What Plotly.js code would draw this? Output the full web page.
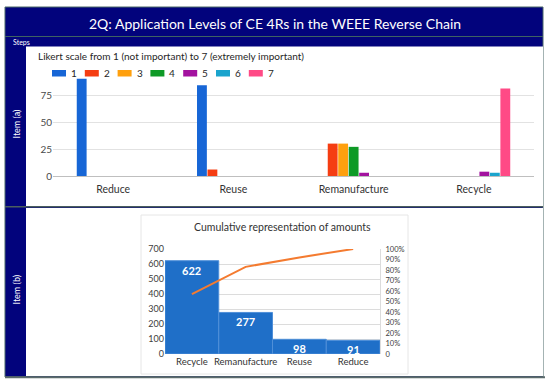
<!DOCTYPE html>
<html>
<head>
<meta charset="utf-8">
<script src="https://cdn.plot.ly/plotly-3.0.1.min.js"></script>
<style>
  html, body { margin: 0; padding: 0; background: #ffffff; }
  #chart { width: 550px; height: 386px; }
</style>
</head>
<body>
<div id="chart"></div>
<script>
// ---------- data ----------
var steps = ['Reduce', 'Reuse', 'Remanufacture', 'Recycle'];
var likertLevels = ['1', '2', '3', '4', '5', '6', '7'];
var level1 = [90, 84, 0, 0];
var level2 = [0, 6, 30, 0];
var level3 = [0, 0, 30, 0];
var level4 = [0, 0, 27, 0];
var level5 = [0, 0, 3, 4];
var level6 = [0, 0, 0, 3];
var level7 = [0, 0, 0, 81];

var paretoCategories = ['Recycle', 'Remanufacture', 'Reuse', 'Reduce'];
var paretoAmounts = [622, 277, 98, 91];
var paretoCumulativePct = [57, 83, 92, 100];

var leftTicks = [0, 100, 200, 300, 400, 500, 600, 700];
var pctTicks = [0, 10, 20, 30, 40, 50, 60, 70, 80, 90, 100];
var pctTickText = ['0', '10%', '20%', '30%', '40%', '50%', '60%', '70%', '80%', '90%', '100%'];

// ---------- styling ----------
var F = 'Lato, "Liberation Sans", sans-serif';
var levelColors = ['#1766d6', '#f53d12', '#ffa00e', '#0e9a26', '#a3129f', '#1aa4cd', '#ff4a86'];
var levelSeries = [level1, level2, level3, level4, level5, level6, level7];
var NAVY = '#02037c';
var W = 550, H = 386;
function px(x) { return x / W; }
function py(y) { return 1 - y / H; }

var traces = [];
for (var i = 0; i < likertLevels.length; i++) {
  traces.push({
    type: 'bar', name: likertLevels[i], x: steps, y: levelSeries[i],
    xaxis: 'x', yaxis: 'y',
    marker: { color: levelColors[i], line: { width: 0 } },
    hoverinfo: 'x+y+name'
  });
}
traces.push({
  type: 'bar', x: paretoCategories, y: paretoAmounts, xaxis: 'x2', yaxis: 'y2',
  width: 1,
  marker: { color: '#1f6fc8', line: { color: '#4f8fd8', width: 1 } },
  hoverinfo: 'x+y'
});
traces.push({
  type: 'scatter', mode: 'lines', x: paretoCategories, y: paretoCumulativePct,
  xaxis: 'x2', yaxis: 'y3',
  line: { color: '#f47b30', width: 2 },
  hoverinfo: 'x+y'
});

function rect(x0, y0, x1, y1, fill, lineColor, lw) {
  return { type: 'rect', xref: 'paper', yref: 'paper', layer: 'below',
    x0: px(x0), x1: px(x1), y0: py(y0), y1: py(y1),
    fillcolor: fill, line: { color: lineColor || 'rgba(0,0,0,0)', width: lw || 0 } };
}
function hline(x0, x1, y, color, lw) {
  return { type: 'line', xref: 'paper', yref: 'paper', layer: 'below',
    x0: px(x0), x1: px(x1), y0: py(y), y1: py(y), line: { color: color, width: lw } };
}

var shapes = [
  rect(5, 7, 543, 377, NAVY, '#4b6868', 1),
  hline(5, 543, 36.5, '#3e6262', 1),
  rect(26, 46.5, 543, 206, '#ffffff'),
  hline(5, 543, 206.8, '#4a5e5e', 1.5),
  rect(26, 208, 543, 376, '#ffffff'),
  hline(5, 545, 377.2, '#5b6b6b', 2),
  rect(141, 215, 408, 374, '#ffffff', '#e6e6e6', 1)
];

// custom legend for the Likert chart
var annotations = [];
for (var j = 0; j < likertLevels.length; j++) {
  var sx = 52 + 32.8 * j;
  shapes.push({ type: 'rect', xref: 'paper', yref: 'paper', layer: 'above',
    x0: px(sx), x1: px(sx + 14), y0: py(76.5), y1: py(70),
    fillcolor: levelColors[j], line: { width: 0 } });
  annotations.push({ xref: 'paper', yref: 'paper', x: px(sx + 22), y: py(72.5),
    text: likertLevels[j], showarrow: false, xanchor: 'center', yanchor: 'middle',
    font: { family: F, size: 10, color: '#262626' } });
}

// value labels on the Pareto bars, placed at each bar's top through the axes
for (var k = 0; k < paretoCategories.length; k++) {
  annotations.push({ xref: 'x2', yref: 'y2', x: paretoCategories[k], y: paretoAmounts[k],
    text: '<b>' + paretoAmounts[k] + '</b>', showarrow: false, xanchor: 'center', yanchor: 'top',
    yshift: -1, font: { family: F, size: 11, color: '#ffffff' } });
}

annotations = annotations.concat([
  { xref: 'paper', yref: 'paper', x: px(275), y: py(23.5), xanchor: 'center', yanchor: 'middle',
    text: '2Q: Application Levels of CE 4Rs in the WEEE Reverse Chain', showarrow: false,
    font: { family: F, size: 14, color: '#ffffff' } },
  { xref: 'paper', yref: 'paper', x: px(11), y: py(42), xanchor: 'left', yanchor: 'middle',
    text: 'Steps', showarrow: false, font: { family: F, size: 7, color: '#ffffff' } },
  { xref: 'paper', yref: 'paper', x: px(36), y: py(56.5), xanchor: 'left', yanchor: 'middle',
    text: 'Likert scale from 1 (not important) to 7 (extremely important)', showarrow: false,
    font: { family: F, size: 10, color: '#262626' } },
  { xref: 'paper', yref: 'paper', x: px(15.5), y: py(124), xanchor: 'center', yanchor: 'middle',
    text: 'Item (a)', textangle: -90, showarrow: false, font: { family: F, size: 9, color: '#ffffff' } },
  { xref: 'paper', yref: 'paper', x: px(15.5), y: py(290), xanchor: 'center', yanchor: 'middle',
    text: 'Item (b)', textangle: -90, showarrow: false, font: { family: F, size: 9, color: '#ffffff' } },
  { xref: 'paper', yref: 'paper', x: px(282), y: py(227), xanchor: 'center', yanchor: 'middle',
    text: 'Cumulative representation of amounts', showarrow: false,
    font: { family: F, size: 10.5, color: '#333333' } }
]);

var layout = {
  width: W, height: H,
  margin: { l: 0, r: 0, t: 0, b: 0 },
  paper_bgcolor: '#ffffff', plot_bgcolor: 'rgba(0,0,0,0)',
  showlegend: false,
  barmode: 'group', bargap: 0.39, bargroupgap: 0.06,
  font: { family: F, color: '#404040' },
  xaxis: {
    domain: [px(53), px(534)], anchor: 'y', type: 'category',
    showgrid: false, showline: true, linecolor: '#bfbfbf', linewidth: 1,
    ticks: '', ticklabelstandoff: 3,
    tickfont: { family: F, size: 10.5, color: '#333333' }, fixedrange: true
  },
  yaxis: {
    domain: [py(176), py(68)], anchor: 'x', range: [0, 100],
    tickvals: [0, 25, 50, 75, 100], ticktext: ['0', '25', '50', '75', ''],
    showgrid: true, gridcolor: '#e2e2e2', zeroline: false, showline: false,
    ticks: '', tickfont: { family: F, size: 10, color: '#4a4a4a' }, fixedrange: true
  },
  xaxis2: {
    domain: [px(165), px(380)], anchor: 'y2', type: 'category',
    showgrid: false, showline: false, ticks: '',
    tickfont: { family: F, size: 9.5, color: '#333333' }, fixedrange: true
  },
  yaxis2: {
    domain: [py(354), py(249)], anchor: 'x2', range: [0, 700],
    tickvals: leftTicks, showgrid: true, gridcolor: '#dcdcdc', zeroline: false,
    showline: false, ticks: '', tickfont: { family: F, size: 9, color: '#404040' }, fixedrange: true
  },
  yaxis3: {
    overlaying: 'y2', anchor: 'x2', side: 'right', range: [0, 100],
    tickvals: pctTicks, ticktext: pctTickText, showgrid: false, zeroline: false,
    showline: true, linecolor: '#dcdcdc', linewidth: 1, ticks: '', ticklabelstandoff: 3,
    tickfont: { family: F, size: 7.5, color: '#404040' }, fixedrange: true
  },
  shapes: shapes,
  annotations: annotations
};

Plotly.newPlot('chart', traces, layout, { displayModeBar: false, staticPlot: true });
</script>
</body>
</html>
